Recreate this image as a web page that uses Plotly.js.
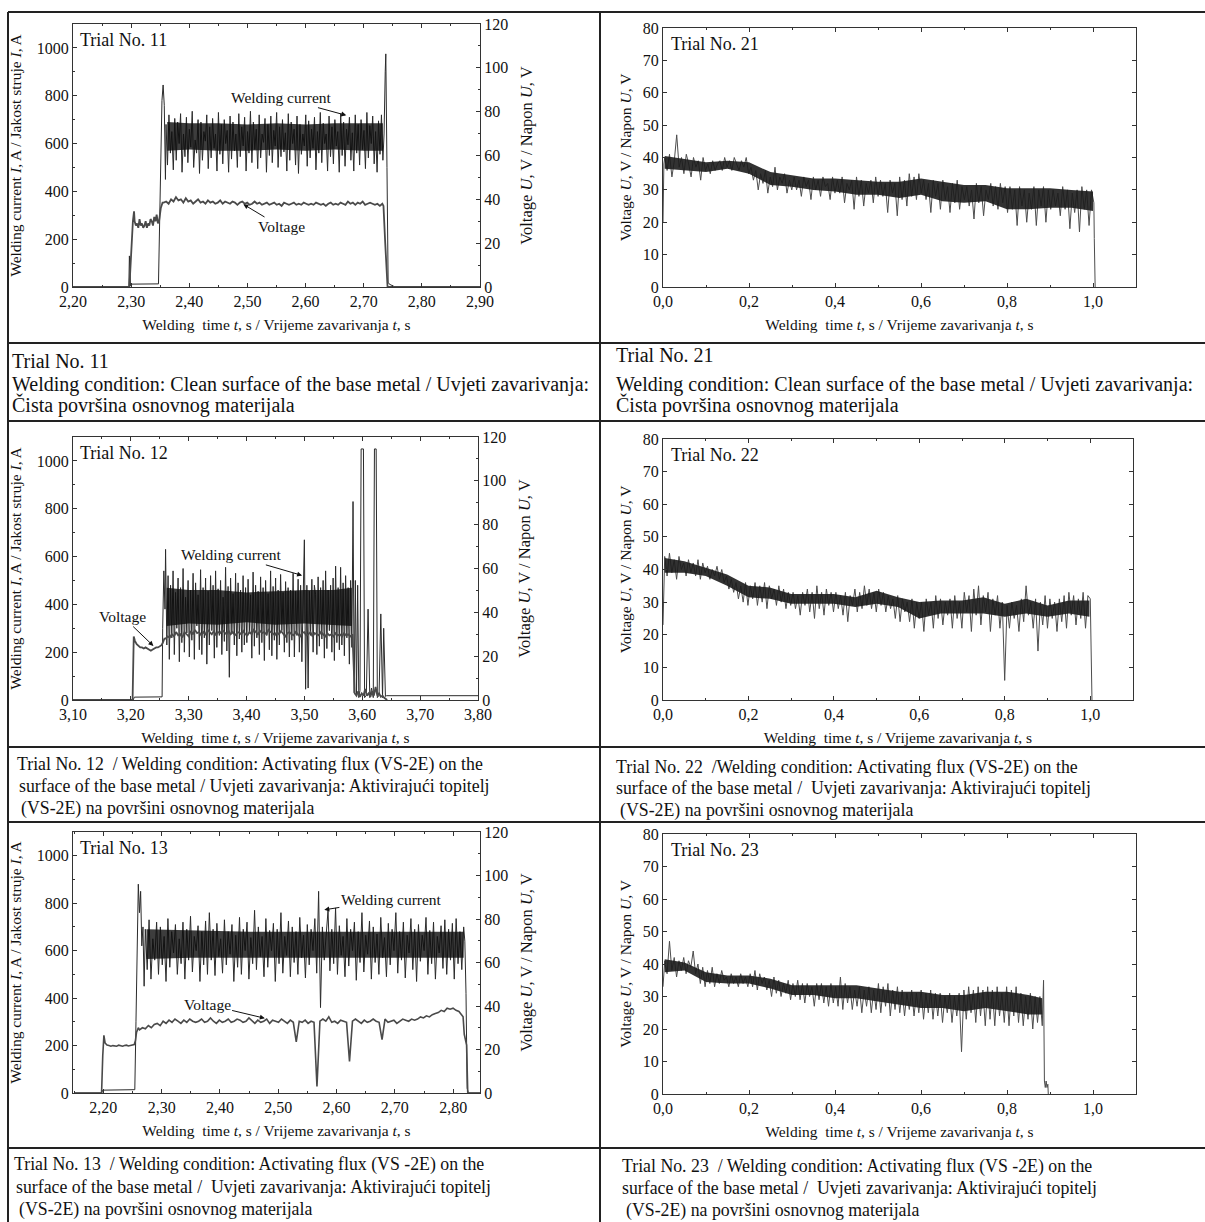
<!DOCTYPE html>
<html><head><meta charset="utf-8">
<script src="https://cdn.plot.ly/plotly-3.0.1.min.js"></script>
<style>html,body{margin:0;padding:0;background:#fff}#chart{width:1205px;height:1222px}</style>
</head><body><div id="chart"></div>
<script>
// ---------------- DATA ----------------
// Trial 11 : welding current (A)
const cur11PreX = [2.20, 2.296, 2.297, 2.299, 2.300, 2.347, 2.349, 2.351, 2.353, 2.355, 2.357, 2.359];
const cur11PreY = [0, 0, 130, 5, 12, 13, 300, 560, 780, 845, 760, 450];
const cur11Span = [2.360, 2.733];
const cur11Vals = [680,510,720,560,650,490,705,530,690,600,725,480,640,545,710,520,660,585,735,500,
615,560,700,475,690,530,650,610,720,495,670,540,705,580,640,485,730,555,680,515,
700,600,655,480,715,535,690,570,640,500,725,545,670,590,710,485,650,560,735,520,
690,575,660,495,720,540,640,605,705,480,680,550,715,520,655,590,730,500,670,545,
700,565,645,485,725,530,690,600,660,510,715,475,680,555,640,590,720,505,695,540,
660,580,710,490,650,560,730,520,685,600,640,485,715,545,670,515,700,590,650,480,
725,550,690,505,660,595,710,530,645,485,720,560,680,510,700,575,655,495,730,540,
675,600,715,515,650,480,695,555,720,530];
const cur11PostX = [2.735, 2.737, 2.738, 2.740, 2.742, 2.744, 2.750, 2.754, 2.90];
const cur11PostY = [640, 900, 975, 500, 20, 12, 6, 0, 0];
// Trial 11 : dense core of the current band (A)
const core11T = [2.362, 2.40, 2.45, 2.50, 2.55, 2.60, 2.65, 2.70, 2.733];
const core11Top = [690, 685, 685, 680, 685, 680, 685, 685, 685];
const core11Bot = [570, 575, 570, 570, 575, 570, 575, 570, 570];
// Trial 11 : voltage (V)
const volt11PreX = [2.20, 2.297, 2.303, 2.305];
const volt11PreY = [0, 0, 30, 34.5];
const volt11SpanA = [2.306, 2.346];
const volt11ValsA = [30,28,29,27,31,28,29,27,28,30,27,29,28,31,30,28,32,30,33,29];
const volt11MidX = [2.348, 2.351, 2.354];
const volt11MidY = [30, 36, 38.5];
const volt11SpanB = [2.356, 2.732];
const volt11ValsB = [38.5,39,38,40,39,41,39.5,40,38.5,40.5,39,39.5,38,39,40,38.5,39,38,39.5,38.5,
39,38,38.5,39.5,38,39,38.5,38,39,38.5,37.5,38.5,39,38,38.5,37.5,38,39,38,38.5,
37.5,38,38.5,37.5,38,38.5,37.5,38,37,38.5,38,37.5,38,38.5,37.5,38,37.5,38.5,38,37.5,
38,37.5,38.5,38,37.5,38,37,38,38.5,37.5,38,37.5,38.5,38,37.5,39,38,38.5,37.5,38.5,
38,39,37.5,38,38.5,38,37.5,38,37,38];
const volt11PostX = [2.734, 2.737, 2.741, 2.90];
const volt11PostY = [37, 20, 0, 0];

// Trial 12 : welding current (A)
const cur12PreX = [3.10, 3.204, 3.206, 3.254, 3.255, 3.257, 3.259];
const cur12PreY = [0, 0, 12, 13, 300, 540, 380];
const cur12Span = [3.260, 3.582];
const cur12Vals = [630,230,520,170,480,260,540,190,450,300,510,160,470,240,550,200,430,280,500,180,
460,250,530,170,490,310,440,210,545,190,470,260,510,150,455,230,520,290,480,175,
540,220,465,270,500,190,430,245,555,205,475,95,510,280,445,230,530,185,490,255,
460,200,520,230,470,240,505,280,440,175,535,225,480,260,455,190,515,240,470,165,
500,270,445,210,540,185,475,250,510,170,460,230,525,290,450,200,495,240,470,180,
460,250,530,180,455,270,505,200,480,160,520,670,45,480,50,455,270,505,200,480,
440,190,515,225,470,255,500,175,540,215,460,290,480,200,510,165,560,240,470,210,
555,230,490,185,520,260,470,150,500,220];
const cur12PostX = [3.584, 3.586, 3.588, 3.590, 3.592, 3.594, 3.596, 3.598, 3.602, 3.604, 3.607, 3.610, 3.613, 3.616, 3.619, 3.621, 3.624, 3.626, 3.629, 3.632, 3.635, 3.637, 3.640, 3.642, 3.80];
const cur12PostY = [830, 30, 500, 20, 480, 10, 40, 1050, 1050, 10, 20, 380, 10, 50, 10, 1050, 1050, 10, 20, 360, 10, 300, 15, 18, 18];
const core12T = [3.262, 3.30, 3.35, 3.40, 3.45, 3.50, 3.55, 3.582];
const core12Top = [470, 460, 460, 450, 455, 460, 460, 470];
const core12Bot = [310, 320, 315, 325, 315, 320, 315, 310];
// Trial 12 : voltage (V)
const volt12PreX = [3.10, 3.203, 3.205];
const volt12PreY = [0, 0, 29];
const volt12SpanA = [3.207, 3.253];
const volt12ValsA = [27,25.5,24.5,24,24,23.5,24,23.5,23,22.5,23,23.5,24,24,24.5,25];
const volt12MidX = [3.255, 3.258];
const volt12MidY = [26, 28];
const volt12SpanB = [3.260, 3.583];
const volt12ValsB = [28,29,28.5,30,29,31,29.5,30,28.5,31,30,29,31.5,30,32,30.5,31,29.5,31,30,
32,31,30,31.5,29.5,31,30.5,32,31,30,31.5,30,31,29.5,30.5,31,30,31.5,30,29.5,
31,30,32,31,30,31.5,30.5,31,30,32,31,30.5,29.5,31,30,31.5,30,29,30.5,31,
30,29.5,31,30,29,30.5,31,29.5,30,31,29,30.5,30,29.5,31,30,29,30.5,29.5,30,
29,30.5,29.5,30,29,30.5,29.5,30,29,30];
const volt12PostX = [3.585, 3.587, 3.590, 3.593, 3.596, 3.599, 3.602, 3.605, 3.608, 3.611, 3.614, 3.617, 3.620, 3.623, 3.626, 3.629, 3.632, 3.635, 3.638, 3.641, 3.643];
const volt12PostY = [15, 3, 2, 4, 1.5, 3, 2, 5, 2, 3, 1.5, 4, 2, 6, 2, 3, 1.5, 2, 1, 0.5, 0];

// Trial 13 : welding current (A)
const cur13PreX = [2.15, 2.197, 2.199, 2.254, 2.256, 2.258, 2.260, 2.262, 2.264, 2.266, 2.268, 2.270];
const cur13PreY = [0, 0, 12, 14, 300, 650, 880, 760, 850, 620, 700, 450];
const cur13Span = [2.272, 2.818];
const cur13Vals = [690,520,730,480,650,560,720,500,700,540,660,470,735,530,680,590,710,500,650,545,
720,480,690,560,745,510,660,600,705,470,680,540,725,500,760,560,690,495,715,575,
650,505,730,540,680,585,710,470,665,530,740,500,690,600,720,480,655,545,770,520,
700,575,660,490,735,530,685,600,715,470,690,545,760,505,660,580,725,490,700,550,
680,500,740,570,665,485,710,540,690,600,735,505,850,360,700,560,660,770,515,690,
545,780,500,705,580,660,490,735,535,690,600,720,475,680,550,760,510,665,585,725,
480,700,550,670,500,740,570,655,490,715,540,690,600,760,505,680,560,720,485,665,
590,735,520,690,470,710,555,665,600,740,500,685,545,720,480,660,590,705,525,730,
500,690,560,715,480,735,545,680,520,700];
const cur13PostX = [2.820, 2.822, 2.824, 2.826, 2.85];
const cur13PostY = [640, 420, 20, 0, 0];
const core13T = [2.274, 2.35, 2.45, 2.55, 2.65, 2.75, 2.818];
const core13Top = [690, 685, 680, 680, 680, 680, 680];
const core13Bot = [565, 570, 570, 570, 570, 570, 570];
// Trial 13 : voltage (V)
const volt13PreX = [2.15, 2.197, 2.199, 2.201];
const volt13PreY = [0, 0, 17, 26.5];
const volt13SpanA = [2.203, 2.253];
const volt13ValsA = [23,22,21.8,21.5,21.8,21.6,21.5,22,21.7,21.5,21.8,22,21.6,21.8,22,22.3];
const volt13MidX = [2.255, 2.257, 2.260];
const volt13MidY = [24, 28, 30];
const volt13SpanB = [2.262, 2.815];
const volt13ValsB = [29,30,29.5,31,30,31.5,32,31,33,32,33.5,32.5,34,33,32,33.5,32.5,34,33,32.5,
33,34,32.5,33,34.5,33,32,33.5,32.5,33,34,32.5,33,34,33.5,32.5,33,34.5,33,32,
33.5,32.5,33,34,32,33.5,33,32.5,34,33,32,33.5,32.5,23.5,33,32.5,33.5,32,33,32.5,
3,33,34,33,35,32.5,33,32,33.5,33,32.5,14.5,33,34,33,32,33.5,32.5,33,34,
33,32.5,24.5,34,32.5,33,33.5,32,33,34,33.5,33,34,33.5,34,35,34.5,35.5,35,36,
36.5,37,38,37.5,39,38.5,39,38,37.5,36];
const volt13PostX = [2.817, 2.819, 2.821, 2.823, 2.825, 2.85];
const volt13PostY = [35, 27, 25, 22, 0, 0];

// Trial 21 : voltage (V)
const volt21PreX = [0, 0.002];
const volt21PreY = [20, 38];
const volt21Span = [0.004, 1.002];
const volt21Vals = [40,36,41,34,39,47,37,40,35,41,38,34,40,37,39,33,40,36,
38,35,39,36,38,39,36,40,37,39,36,40,38,36,39,37,40,35,
37,33,36,30,35,32,36,29,34,31,37,30,34,32,35,29,33,30,
34,30,33,28,34,31,33,27,34,30,33,28,34,31,32,27,34,29,
33,29,34,26,32,30,33,24,34,28,33,25,32,29,33,26,34,28,
33,28,32,23,33,29,32,22,34,27,33,25,35,28,34,27,35,29,
33,27,32,23,33,28,32,24,33,27,31,23,32,26,33,24,31,27,
31,25,30,21,32,26,31,22,30,27,32,25,31,24,32,26,31,23,
31,24,30,19,31,25,30,20,29,24,31,19,30,25,31,20,30,24,
30,25,29,22,31,24,30,18,29,23,30,17,31,24,30,19,30,26];
const volt21PostX = [1.003, 1.005];
const volt21PostY = [15, 0];
const core21T = [0.004,0.05,0.1,0.15,0.2,0.25,0.3,0.35,0.4,0.45,0.5,0.55,0.6,0.65,0.7,0.75,0.8,0.85,0.9,0.95,1.0];
const core21Top = [40.5,39.5,38.5,39,38.5,35.5,34.5,33.5,33.5,33,32.5,32.5,33.5,32.5,31.5,31.5,30.5,30.5,30.5,30,29.5];
const core21Bot = [36.5,36,35.5,36.5,35,31.5,31,30,29.5,28.5,28.5,27.5,28.5,26.5,26,26.5,24,24,24.5,24.5,23.5];

// Trial 22 : voltage (V)
const volt22PreX = [0, 0.002];
const volt22PreY = [23, 40];
const volt22Span = [0.004, 1.000];
const volt22Vals = [44,38,45,39,43,37,44,40,42,38,43,39,42,38,43,37,42,39,
41,37,40,38,41,37,40,36,38,34,37,33,36,31,35,30,36,29,
35,31,36,29,35,30,36,28,35,31,34,29,35,30,34,28,33,29,
33,28,32,26,33,29,34,27,33,25,35,28,33,26,34,29,33,27,
33,28,32,26,33,24,32,29,34,27,33,28,35,29,34,28,33,27,
34,29,33,27,32,28,31,25,32,24,31,27,30,24,31,22,30,25,
30,21,31,26,30,22,32,25,31,23,30,26,31,22,32,25,30,22,
33,27,32,21,34,26,35,23,32,27,33,21,31,26,32,22,30,6,
29,22,30,25,29,21,31,24,35,26,30,22,31,15,30,23,32,22,
31,25,30,21,31,24,32,22,33,26,32,23,31,25,33,22,32,31];
const volt22PostX = [1.002, 1.004];
const volt22PostY = [10, 0];
const core22T = [0.004,0.05,0.1,0.15,0.2,0.25,0.3,0.35,0.4,0.45,0.5,0.55,0.6,0.65,0.7,0.75,0.8,0.85,0.9,0.95,0.998];
const core22Top = [43.5,42.5,40.5,38.5,35,34.5,32.5,32.5,32.5,31.5,33.5,31.5,30,30.5,30.5,31.5,29.5,31,29,30.5,30.5];
const core22Bot = [39,39,38,35,31.5,31,29.5,29.5,29.5,28.5,29.5,28.5,25,26.5,26.5,26.5,25.5,26.5,25.5,26.5,25.5];

// Trial 23 : voltage (V)
const volt23PreX = [0, 0.002];
const volt23PreY = [33, 37];
const volt23Span = [0.004, 0.882];
const volt23Vals = [41,37,47,38,42,36,41,38,42,37,41,39,44,37,40,34,39,33,
38,34,39,33,37,34,38,35,36,33,37,34,36,33,37,34,36,33,
37,33,38,32,37,34,36,32,35,30,36,31,35,30,34,31,35,29,
34,30,35,29,34,28,34,30,33,27,34,29,34,28,33,27,34,28,
33,27,36,26,34,28,33,26,32,27,33,25,32,27,33,25,32,26,
34,25,33,27,34,24,32,26,33,25,32,24,31,26,32,24,31,25,
32,23,31,25,32,23,31,24,31,22,30,25,31,22,30,24,31,13,
32,23,33,25,32,22,33,24,32,21,33,23,32,21,33,24,31,22,
33,21,32,24,33,22,31,21,30,23,31,20,30,22,30,21];
const volt23PostX = [0.884, 0.885, 0.886, 0.887, 0.889, 0.891, 0.893, 0.895, 0.896];
const volt23PostY = [28, 35, 20, 4, 2, 4, 2, 3, 0];
const core23T = [0.004,0.05,0.1,0.15,0.2,0.25,0.3,0.35,0.4,0.45,0.5,0.55,0.6,0.65,0.7,0.75,0.8,0.85,0.882];
const core23Top = [41.5,40.5,37.5,36.5,36.5,35.5,33.5,33.5,33.5,33.5,32.5,31.5,31.5,30.5,30.5,31.5,31.5,30.5,29.5];
const core23Bot = [37.5,38,34.5,34,34,32.5,30.5,30.5,29.5,29.5,28.5,27.5,26.5,26.5,25.5,26.5,25.5,24.5,24.5];

// texts
const leftTitle = 'Welding current <i>I</i>, A / Jakost struje <i>I</i>, A';
const voltTitle = 'Voltage <i>U</i>, V / Napon <i>U</i>, V';
const timeTitle = 'Welding\u00a0 time <i>t</i>, s / Vrijeme zavarivanja <i>t</i>, s';

// ---------------- helpers ----------------
const W = 1205, H = 1222;
function sampleTimes(span, n) { const o = []; for (let i = 0; i < n; i++) o.push(span[0] + (span[1] - span[0]) * i / (n - 1)); return o; }
function join(parts) {
  let x = [], y = [];
  parts.forEach(p => {
    if (p.span) { x = x.concat(sampleTimes(p.span, p.v.length)); y = y.concat(p.v); }
    else { x = x.concat(p.x); y = y.concat(p.y); }
  });
  return {x, y};
}
const px = p => p / W;
const py = p => 1 - p / H;
const serif = 'Liberation Serif, Times New Roman, serif';
const CUR = '#2b2b2b', VOL = '#4a4a4a', V2 = '#4d4d4d';
const CORE = 'rgba(12,12,12,0.8)', CORE2 = 'rgba(28,28,28,0.9)';

const s11c = join([{x: cur11PreX, y: cur11PreY}, {span: cur11Span, v: cur11Vals}, {x: cur11PostX, y: cur11PostY}]);
const s11v = join([{x: volt11PreX, y: volt11PreY}, {span: volt11SpanA, v: volt11ValsA}, {x: volt11MidX, y: volt11MidY}, {span: volt11SpanB, v: volt11ValsB}, {x: volt11PostX, y: volt11PostY}]);
const s12c = join([{x: cur12PreX, y: cur12PreY}, {span: cur12Span, v: cur12Vals}, {x: cur12PostX, y: cur12PostY}]);
const s12v = join([{x: volt12PreX, y: volt12PreY}, {span: volt12SpanA, v: volt12ValsA}, {x: volt12MidX, y: volt12MidY}, {span: volt12SpanB, v: volt12ValsB}, {x: volt12PostX, y: volt12PostY}]);
const s13c = join([{x: cur13PreX, y: cur13PreY}, {span: cur13Span, v: cur13Vals}, {x: cur13PostX, y: cur13PostY}]);
const s13v = join([{x: volt13PreX, y: volt13PreY}, {span: volt13SpanA, v: volt13ValsA}, {x: volt13MidX, y: volt13MidY}, {span: volt13SpanB, v: volt13ValsB}, {x: volt13PostX, y: volt13PostY}]);
const s21 = join([{x: volt21PreX, y: volt21PreY}, {span: volt21Span, v: volt21Vals}, {x: volt21PostX, y: volt21PostY}]);
const s22 = join([{x: volt22PreX, y: volt22PreY}, {span: volt22Span, v: volt22Vals}, {x: volt22PostX, y: volt22PostY}]);
const s23 = join([{x: volt23PreX, y: volt23PreY}, {span: volt23Span, v: volt23Vals}, {x: volt23PostX, y: volt23PostY}]);

function tr(s, xa, ya, color, w) { return {type: 'scatter', mode: 'lines', x: s.x, y: s.y, xaxis: xa, yaxis: ya, line: {color: color, width: w}, hoverinfo: 'skip', showlegend: false}; }
function band(t, top, bot, xa, ya, col) {
  return {type: 'scatter', mode: 'lines', x: t.concat(t.slice().reverse()), y: top.concat(bot.slice().reverse()), fill: 'toself', fillcolor: col, line: {width: 0, color: col}, xaxis: xa, yaxis: ya, hoverinfo: 'skip', showlegend: false};
}
const data = [
  tr(s11c, 'x', 'y', CUR, 1), band(core11T, core11Top, core11Bot, 'x', 'y', CORE), tr(s11v, 'x', 'y2', VOL, 1.8),
  tr(s12c, 'x2', 'y3', CUR, 1), band(core12T, core12Top, core12Bot, 'x2', 'y3', CORE), tr(s12v, 'x2', 'y4', VOL, 1.8),
  tr(s13c, 'x3', 'y5', CUR, 1), band(core13T, core13Top, core13Bot, 'x3', 'y5', CORE), tr(s13v, 'x3', 'y6', VOL, 1.6),
  tr(s21, 'x4', 'y7', V2, 1), band(core21T, core21Top, core21Bot, 'x4', 'y7', CORE2),
  tr(s22, 'x5', 'y8', V2, 1), band(core22T, core22Top, core22Bot, 'x5', 'y8', CORE2),
  tr(s23, 'x6', 'y9', V2, 1), band(core23T, core23Top, core23Bot, 'x6', 'y9', CORE2)
];

const tickFont = {family: serif, size: 16, color: '#111'};
const titleFont = {family: serif, size: 15.5, color: '#111'};
const axBase = {showgrid: false, zeroline: false, showline: true, linecolor: '#333', linewidth: 1, ticks: 'inside', ticklen: 4, tickcolor: '#333', tickfont: tickFont, automargin: false, fixedrange: true};

function timeAxis(dom, anchor, range, t0, dtick, fmt, minor, so) {
  return Object.assign({}, axBase, {domain: [px(dom[0]), px(dom[1])], anchor: anchor, range: range, tick0: t0, dtick: dtick, tickformat: fmt, mirror: 'ticks',
    minor: {dtick: minor, ticks: 'inside', ticklen: 2, tickcolor: '#333'},
    title: {text: timeTitle, font: titleFont, standoff: so}});
}
function curAxis(dom, anchor) {
  return Object.assign({}, axBase, {domain: [py(dom[1]), py(dom[0])], anchor: anchor, range: [0, 1100], tick0: 0, dtick: 200, mirror: false,
    minor: {dtick: 100, ticks: 'inside', ticklen: 2, tickcolor: '#333'},
    title: {text: leftTitle, font: titleFont, standoff: 11}});
}
function voltRight(over, anchor) {
  return Object.assign({}, axBase, {overlaying: over, anchor: anchor, side: 'right', range: [0, 120], tick0: 0, dtick: 20,
    minor: {dtick: 10, ticks: 'inside', ticklen: 2, tickcolor: '#333'},
    title: {text: voltTitle, font: {family: serif, size: 16.5, color: '#111'}, standoff: 13}});
}
function voltLeft(dom, anchor) {
  return Object.assign({}, axBase, {domain: [py(dom[1]), py(dom[0])], anchor: anchor, range: [0, 80], tick0: 0, dtick: 10, mirror: 'ticks',
    title: {text: voltTitle, font: titleFont, standoff: 7}});
}

const layout = {
  width: W, height: H, margin: {l: 0, r: 0, t: 0, b: 0}, paper_bgcolor: '#fff', plot_bgcolor: '#fff',
  separators: ',.', showlegend: false, font: {family: serif, color: '#111'},
  xaxis: timeAxis([73, 480], 'y', [2.2, 2.9], 2.2, 0.1, '.2f', 0.05, 9),
  yaxis: curAxis([24, 287], 'x'),
  yaxis2: voltRight('y', 'x'),
  xaxis2: timeAxis([73, 478], 'y3', [3.1, 3.8], 3.1, 0.1, '.2f', 0.05, 9),
  yaxis3: curAxis([437, 700], 'x2'),
  yaxis4: voltRight('y3', 'x2'),
  xaxis3: timeAxis([73, 480], 'y5', [2.148, 2.846], 2.2, 0.1, '.2f', 0.05, 9),
  yaxis5: curAxis([832, 1093], 'x3'),
  yaxis6: voltRight('y5', 'x3'),
  xaxis4: timeAxis([663, 1136], 'y7', [0, 1.1], 0, 0.2, '.1f', 0.1, 9),
  yaxis7: voltLeft([28, 287], 'x4'),
  xaxis5: timeAxis([663, 1133], 'y8', [0, 1.1], 0, 0.2, '.1f', 0.1, 9),
  yaxis8: voltLeft([439, 700], 'x5'),
  xaxis6: timeAxis([663, 1136], 'y9', [0, 1.1], 0, 0.2, '.1f', 0.1, 9),
  yaxis9: voltLeft([834, 1094], 'x6'),
  shapes: [], annotations: []
};

// table lines
const hLines = [12, 343, 421, 747, 822, 1148];
hLines.forEach(yy => layout.shapes.push({type: 'line', xref: 'paper', yref: 'paper', x0: px(8), x1: 1, y0: py(yy), y1: py(yy), line: {color: '#222', width: 2}}));
[8, 600].forEach(xx => layout.shapes.push({type: 'line', xref: 'paper', yref: 'paper', x0: px(xx), x1: px(xx), y0: py(12), y1: 0, line: {color: '#222', width: 2}}));

// trial labels inside plots
const trialLabels = [['Trial No. 11', 'x', 'y'], ['Trial No. 12', 'x2', 'y3'], ['Trial No. 13', 'x3', 'y5'],
  ['Trial No. 21', 'x4', 'y7'], ['Trial No. 22', 'x5', 'y8'], ['Trial No. 23', 'x6', 'y9']];
trialLabels.forEach(t => layout.annotations.push({text: t[0], xref: t[1] + ' domain', yref: t[2] + ' domain', x: 0.012, y: 0.985, xanchor: 'left', yanchor: 'top', showarrow: false, font: {family: serif, size: 18, color: '#111'}}));

// arrow labels
function arrowLabel(text, xr, yr, tip, txt) {
  return {text: text, xref: xr, yref: yr, axref: xr, ayref: yr, x: tip[0], y: tip[1], ax: txt[0], ay: txt[1], showarrow: true, arrowhead: 2, arrowsize: 1, arrowwidth: 1, arrowcolor: '#111', standoff: 0, font: {family: serif, size: 15.5, color: '#111'}};
}
layout.annotations.push(arrowLabel('Welding current', 'x', 'y', [2.67, 718], [2.558, 792]));
layout.annotations.push(arrowLabel('Voltage', 'x', 'y', [2.493, 346], [2.558, 251]));
layout.annotations.push(arrowLabel('Welding current', 'x2', 'y3', [3.496, 521], [3.374, 607]));
layout.annotations.push(arrowLabel('Voltage', 'x2', 'y3', [3.239, 226], [3.186, 349]));
layout.annotations.push(arrowLabel('Welding current', 'x3', 'y5', [2.579, 772], [2.694, 817]));
layout.annotations.push(arrowLabel('Voltage', 'x3', 'y5', [2.477, 315], [2.378, 373]));

// captions
const C1 = 20, C2 = 17.8;
const captions = [
  [10, 361, C1, 'Trial No. 11'],
  [10, 384, C1, 'Welding condition: Clean surface of the base metal / Uvjeti zavarivanja:'],
  [10, 405, C1, 'Čista površina osnovnog materijala'],
  [614, 355, C1, 'Trial No. 21'],
  [614, 384, C1, 'Welding condition: Clean surface of the base metal / Uvjeti zavarivanja:'],
  [614, 405, C1, 'Čista površina osnovnog materijala'],
  [15, 764, C2, 'Trial No. 12  / Welding condition: Activating flux (VS-2E) on the'],
  [17, 786, C2, 'surface of the base metal / Uvjeti zavarivanja: Aktivirajući topitelj'],
  [19, 808, C2, '(VS-2E) na površini osnovnog materijala'],
  [614, 767, C2, 'Trial No. 22  /Welding condition: Activating flux (VS-2E) on the'],
  [614, 788, C2, 'surface of the base metal /\u00a0 Uvjeti zavarivanja: Aktivirajući topitelj'],
  [618, 810, C2, '(VS-2E) na površini osnovnog materijala'],
  [12, 1164, C2, 'Trial No. 13\u00a0 / Welding condition: Activating flux (VS -2E) on the'],
  [14, 1187, C2, 'surface of the base metal /\u00a0 Uvjeti zavarivanja: Aktivirajući topitelj'],
  [17, 1209, C2, '(VS-2E) na površini osnovnog materijala'],
  [620, 1166, C2, 'Trial No. 23\u00a0 / Welding condition: Activating flux (VS -2E) on the'],
  [620, 1188, C2, 'surface of the base metal /\u00a0 Uvjeti zavarivanja: Aktivirajući topitelj'],
  [624, 1210, C2, '(VS-2E) na površini osnovnog materijala']
];
captions.forEach(c => layout.annotations.push({text: c[3], xref: 'paper', yref: 'paper', x: px(c[0]), y: py(c[1]), xanchor: 'left', yanchor: 'middle', showarrow: false, font: {family: serif, size: c[2], color: '#111'}}));

Plotly.newPlot('chart', data, layout, {staticPlot: true, displayModeBar: false});
</script></body></html>
